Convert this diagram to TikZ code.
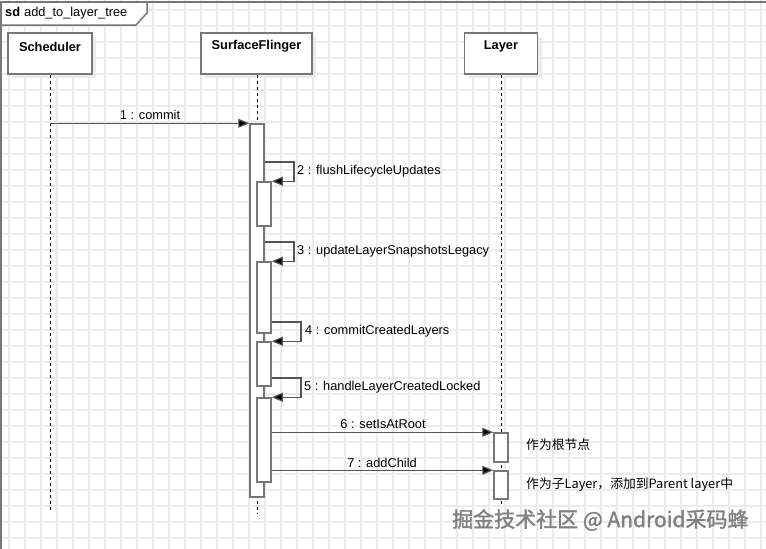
\documentclass[tikz,border=0pt]{standalone}
\usepackage{fontspec}
\setmainfont{Liberation Sans}
\newfontfamily\cjk{Noto Sans CJK SC}
\newfontfamily\cjkwm{Noto Sans CJK SC}[FakeBold=1.5]
\usetikzlibrary{arrows.meta,shadows}
\definecolor{gridc}{HTML}{EBEBEB}
\definecolor{linec}{HTML}{777777}
\definecolor{msgc}{HTML}{555555}
\begin{document}
\begin{tikzpicture}[x=1pt,y=-1pt,
  every node/.style={font=\fontsize{12.8}{15}\selectfont},
  frame/.style={draw=linec, line width=1.5pt},
  head/.style={draw=linec, line width=1.5pt, fill=white, inner sep=0pt,
    drop shadow={shadow xshift=4pt, shadow yshift=-4pt, fill=black!8, opacity=1}},
  headtext/.style={font=\fontsize{12.8}{15}\selectfont\bfseries, inner sep=0pt},
  life/.style={draw=black, line width=0.8pt, dash pattern=on 3pt off 3pt},
  bar/.style={draw=linec, line width=1.5pt, fill=white, minimum width=14pt, inner sep=0pt},
  msg/.style={draw=msgc, line width=1.2pt, -{Triangle[length=11pt,width=9pt,fill=black]}},
  lbl/.style={inner sep=1pt},
  note/.style={font=\fontsize{12.8}{15}\selectfont\cjk, anchor=west, inner sep=0pt}
]
\useasboundingbox (0,0) rectangle (766,549);
\fill[white] (0,0) rectangle (766,549);
% grid
\foreach \x in {9,25,...,761} \draw[gridc, line width=1.3pt] (\x,0) -- (\x,549);
\foreach \y in {10,26,...,546} \draw[gridc, line width=1.3pt] (0,\y) -- (766,\y);
% frame
\draw[frame] (1,549) -- (1,2) -- (766,2);
\draw[frame, fill=white] (1,2) -- (147,2) -- (147,13) -- (136,25) -- (1,25) -- cycle;
\node[anchor=west, inner sep=0pt] (title) at (5,13.5) {\textbf{sd}\hspace{4pt}add\_to\_layer\_tree};
% heads
\node[head, minimum width=84pt, minimum height=41pt] (sch) at (50,53.5) {};
\node[head, minimum width=111pt, minimum height=41pt] (sf) at (256.5,53.5) {};
\node[head, minimum width=73pt, minimum height=41pt] (ly) at (501,53.5) {};
\node[headtext] (schT) at (50,46.5) {Scheduler};
\node[headtext] (sfT) at (256.5,46.5) {SurfaceFlinger};
\node[headtext] (lyT) at (501,46.5) {Layer};
% lifelines
\coordinate (schEnd) at (50,510);
\coordinate (sfEnd) at (257,513);
\coordinate (lyEnd) at (501,505);
\draw[life] (sch.south) -- (schEnd);
\draw[life] (sch.south -| sfEnd) -- (sfEnd);
\draw[life] (ly.south) -- (lyEnd);
% activation bars
\node[bar, minimum height=373pt] (sfA) at (257,310.5) {};
\node[bar, minimum height=44pt] (b2) at (264,204) {};
\node[bar, minimum height=71pt] (b3) at (264,297.5) {};
\node[bar, minimum height=44pt] (b4) at (264,364) {};
\node[bar, minimum height=84pt] (b5) at (264,440) {};
\node[bar, minimum height=29pt] (L1) at (501,447.5) {};
\node[bar, minimum height=28pt] (L2) at (501,485) {};
% messages
\draw[msg] (sch.south |- sfA.north) -- (sfA.north west);
\node[lbl] (m1) at (150,114.5) {1 : commit};
\draw[msg] (sfA.east |- 0,162) -- (294,162) |- (b2.north east);
\node[lbl, anchor=west] (m2) at (296,171.5) {2 : flushLifecycleUpdates};
\draw[msg] (sfA.east |- 0,242) -- (294,242) |- (b3.north east);
\node[lbl, anchor=west] (m3) at (296,251.5) {3 : updateLayerSnapshotsLegacy};
\draw[msg] (b3.east |- 0,322) -- (301,322) |- (b4.north east);
\node[lbl, anchor=west] (m4) at (304,331.5) {4 : commitCreatedLayers};
\draw[msg] (b4.east |- 0,378) -- (301,378) |- (b5.north east);
\node[lbl, anchor=west] (m5) at (303,387.5) {5 : handleLayerCreatedLocked};
\draw[msg] (b5.east |- L1.north) -- (L1.north west);
\node[lbl] (m6) at (383,424.5) {6 : setIsAtRoot};
\draw[msg] (b5.east |- L2.north) -- (L2.north west);
\node[lbl] (m7) at (382,462.5) {7 : addChild};
% notes
\node[note] (n1) at (526,444.5) {作为根节点};
\node[note] (n2) at (526,484.5) {作为子Layer，添加到Parent layer中};
% watermark
\node[font=\fontsize{21}{23}\selectfont\cjkwm, text=black!50, anchor=west, inner sep=0pt] (wm) at (452,520) {掘金技术社区 @ Android采码蜂};
\end{tikzpicture}
\end{document}
